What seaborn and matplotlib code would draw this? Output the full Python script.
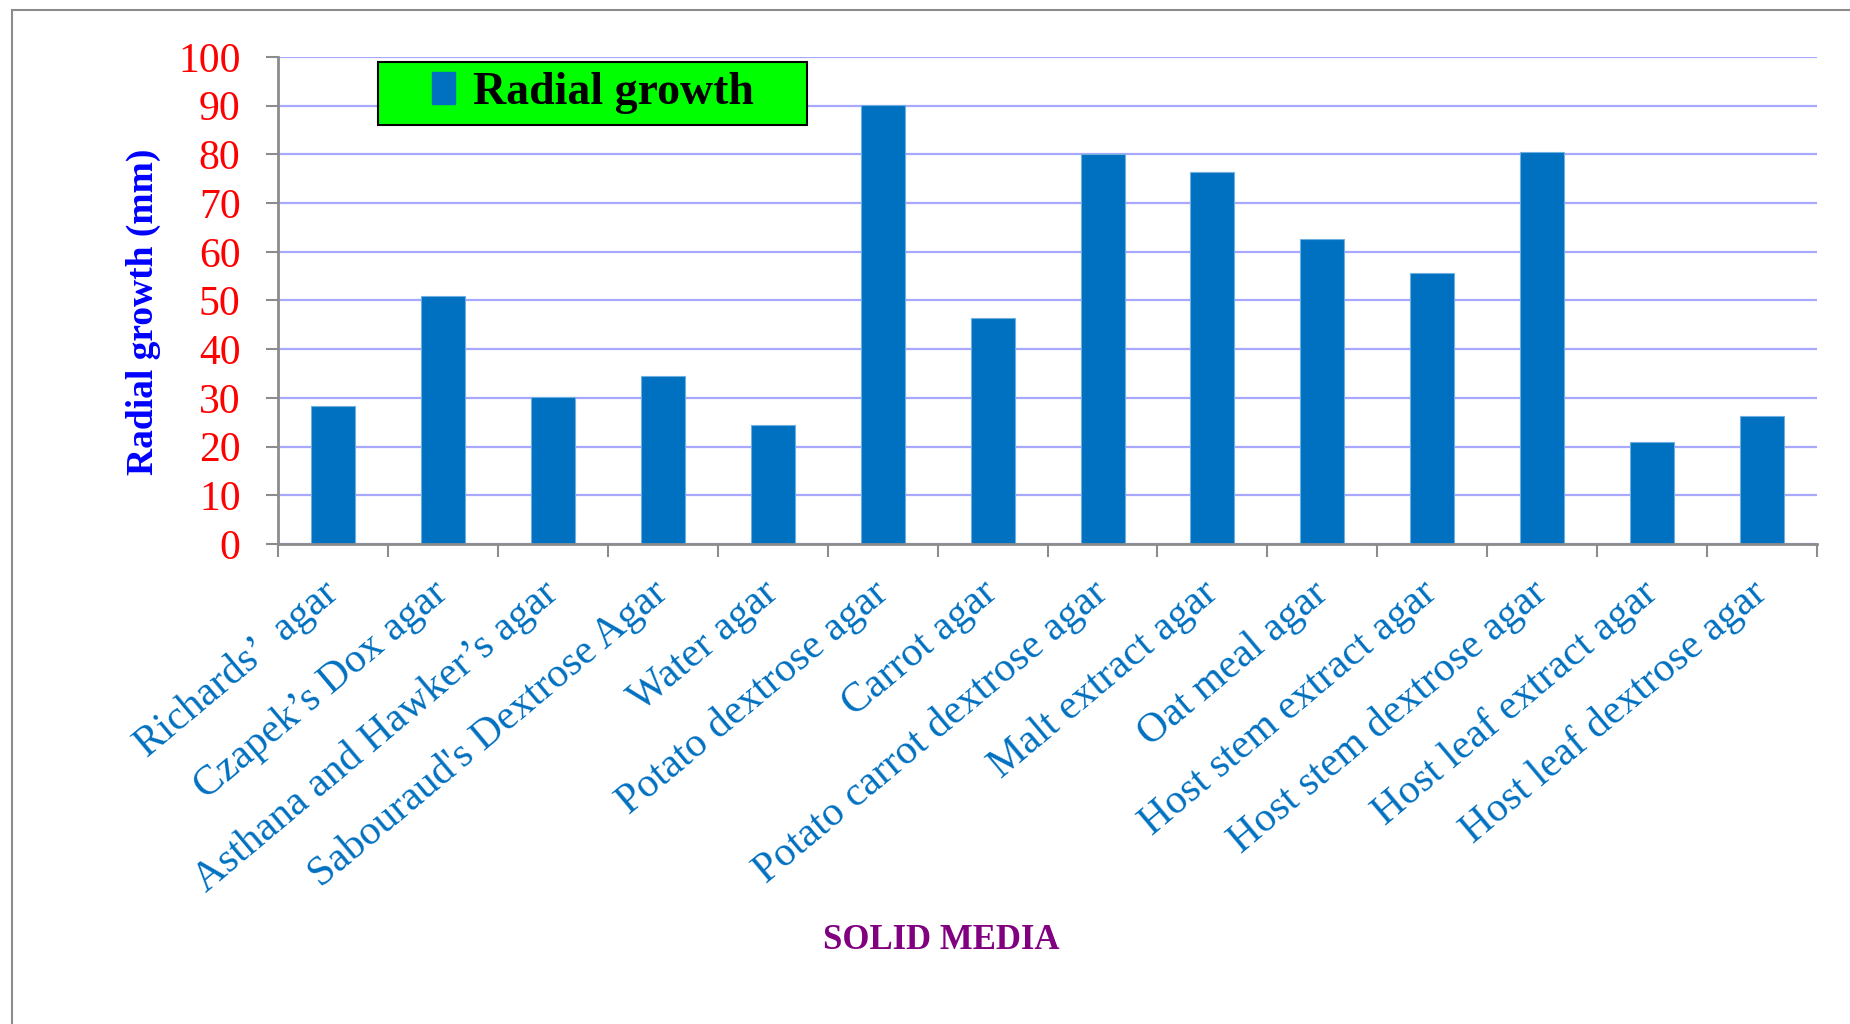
import matplotlib
matplotlib.use("Agg")
import matplotlib.pyplot as plt
import matplotlib.patches as mpatches
import seaborn as sns

# Données
media = ["Richards\u2019  agar", "Czapek\u2019s Dox agar", "Asthana and Hawker\u2019s agar",
         "Sabouraud's Dextrose Agar", "Water agar", "Potato dextrose agar", "Carrot agar",
         "Potato carrot dextrose agar", "Malt extract agar", "Oat meal agar",
         "Host stem extract agar", "Host stem dextrose agar", "Host leaf extract agar",
         "Host leaf dextrose agar"]
growth = [28.3, 51.0, 30.2, 34.4, 24.4, 90.2, 46.4, 80.1, 76.3, 62.7, 55.6, 80.4, 21.0, 26.3]
y_ticks = [0, 10, 20, 30, 40, 50, 60, 70, 80, 90, 100]

sns.set_theme(style="white")
plt.rcParams['font.family'] = ['Liberation Serif', 'DejaVu Serif']

bar_color = "#0070C0"

fig = plt.figure(figsize=(18.5, 10.24), dpi=100)
ax = fig.add_axes([0.1503, 0.4688, 0.8319, 0.4755])

sns.barplot(x=media, y=growth, color=bar_color, saturation=1, width=0.4,
            edgecolor="#6fb0e0", linewidth=0.8, ax=ax)

ax.set_xlim(-0.5, len(media) - 0.5)
ax.set_ylim(0, 100)
ax.set_yticks(y_ticks)
ax.set_yticklabels([str(v) for v in y_ticks], color="#FF0000", fontsize=30)

# grille horizontale bleutée
ax.yaxis.grid(True, color="#a8a8ff", linewidth=1.6)
ax.xaxis.grid(False)
ax.set_axisbelow(True)

for s in ["top", "right"]:
    ax.spines[s].set_visible(False)
for s in ["left", "bottom"]:
    ax.spines[s].set_color("#8c8c8c")
    ax.spines[s].set_linewidth(2)

ax.tick_params(axis="y", which="major", left=True, length=9, width=1.5, color="#8c8c8c", pad=18)

# étiquettes au centre, graduations entre les catégories
ax.set_xticks(range(len(media)))
ax.set_xticklabels(media, rotation=40, ha="right", va="center",
                   rotation_mode="anchor", color=bar_color, fontsize=30)
ax.tick_params(axis="x", which="major", bottom=False, length=0, pad=32)
ax.set_xticks([i - 0.5 for i in range(len(media) + 1)], minor=True)
ax.tick_params(axis="x", which="minor", bottom=True, length=9, width=1.5, color="#8c8c8c")

ax.set_xlabel("")
ax.set_ylabel("Radial growth (mm)", color="#0000FF", fontsize=27, fontweight="bold")
ax.yaxis.set_label_coords(-0.076, 0.476)

fig.text(0.509, 0.082, "SOLID MEDIA", color="#800080", fontsize=25,
         fontweight="bold", ha="center", va="center")

# Légende dans un cadre vert
rect = mpatches.Rectangle((0.065, 0.861), 0.279, 0.129, transform=ax.transAxes,
                          facecolor="#00FF00", edgecolor="black", linewidth=1.5,
                          zorder=5, clip_on=False)
ax.add_patch(rect)
handle = mpatches.Patch(color=bar_color, label="Radial growth")
leg = ax.legend(handles=[handle], loc="center", bbox_to_anchor=(0.2045, 0.9255),
                frameon=False, handlelength=0.5, handleheight=0.7, handletextpad=0.4,
                labelcolor="black",
                prop={"family": "Liberation Serif", "weight": "bold", "size": 33})
leg.set_zorder(6)

# cadre gris de la zone du graphique
border = mpatches.Rectangle((12 / 1850, -0.1), 1.2, 1.1 - 9.5 / 1024,
                            transform=fig.transFigure, fill=False,
                            edgecolor="#8c8c8c", linewidth=1.5, clip_on=False)
fig.patches.append(border)

fig.savefig("out.png", dpi=100)
plt.close(fig)
